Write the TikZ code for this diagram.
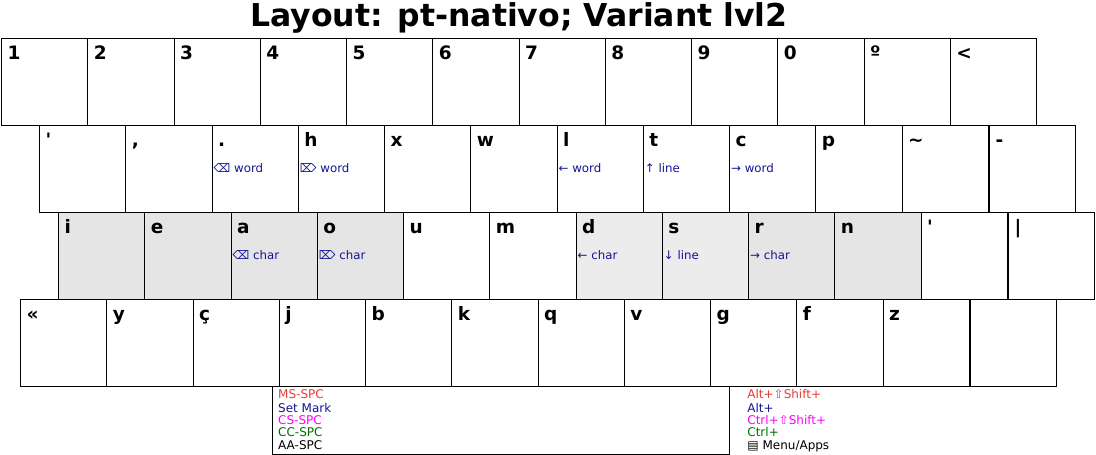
\documentclass[tikz,border=0pt]{standalone}
\usepackage{fontspec}
\setmainfont{DejaVu Sans}
\definecolor{subblue}{RGB}{20,20,150}
\definecolor{modred}{RGB}{228,60,50}
\definecolor{modmagenta}{RGB}{255,0,255}
\definecolor{modgreen}{RGB}{0,110,0}
\definecolor{keygray}{RGB}{229,229,229}
\definecolor{keylight}{RGB}{236,236,236}
\begin{document}
\begin{tikzpicture}[
  x=1pt, y=-1pt,
  key/.style={draw=black, line width=1.2pt, anchor=north west, inner sep=0pt,
              minimum width=86.25pt, minimum height=86.5pt},
  keylbl/.style={anchor=base west, inner sep=0pt, font=\fontsize{18.5}{20}\selectfont\bfseries},
  sublbl/.style={anchor=base west, inner sep=0pt, text=subblue, font=\fontsize{11.8}{13}\selectfont},
  modlbl/.style={anchor=base west, inner sep=0pt, font=\fontsize{12}{14}\selectfont},
  heading/.style={anchor=base, inner sep=0pt, font=\fontsize{31.5}{36}\selectfont\bfseries}
]
\useasboundingbox (0,0) rectangle (1096,455);
\node[heading] (title) at (519,26) {Layout: pt-nativo; Variant lvl2};

% number row
\foreach \lbl [count=\i from 0] in {1,2,3,4,5,6,7,8,9,0,º,<} {
  \node[key] (ka\i) at (1+\i*86.25,38) {};
  \node[keylbl] (la\i) at ([shift={(6.5,21)}]ka\i.north west) {\lbl};
}

% top row
\foreach \lbl/\sub [count=\i from 0] in {\textquotesingle/{},{,}/{},./⌫ word,h/⌦ word,x/{},w/{},
    l/← word,t/↑ line,c/→ word,p/{},\textasciitilde/{}} {
  \node[key] (kb\i) at (39+\i*86.25,125) {};
  \node[keylbl] (lb\i) at ([shift={(6.5,21)}]kb\i.north west) {\lbl};
  \node[sublbl] (sb\i) at ([shift={(2,47)}]kb\i.north west) {\sub};
}
\node[key] (kbminus) at (989,125) {};
\node[keylbl] (lbminus) at ([shift={(6.5,21)}]kbminus.north west) {-};

% home row
\foreach \lbl/\sub/\shade [count=\i from 0] in {i/{}/keygray,e/{}/keygray,a/⌫ char/keygray,
    o/⌦ char/keygray,u/{}/white,m/{}/white,d/← char/keylight,s/↓ line/keylight,
    r/→ char/keygray,n/{}/keygray,\textquotesingle/{}/white} {
  \node[key, fill=\shade] (kc\i) at (58+\i*86.25,212) {};
  \node[keylbl] (lc\i) at ([shift={(6.5,21)}]kc\i.north west) {\lbl};
  \node[sublbl] (sc\i) at ([shift={(2,47)}]kc\i.north west) {\sub};
}
\node[key] (kcbar) at (1008,212) {};
\node[keylbl] (lcbar) at ([shift={(6.5,21)}]kcbar.north west) {|};

% bottom row
\foreach \lbl [count=\i from 0] in {«,y,ç,j,b,k,q,v,g,f,z} {
  \node[key] (kd\i) at (20+\i*86.25,299) {};
  \node[keylbl] (ld\i) at ([shift={(6.5,21)}]kd\i.north west) {\lbl};
}
\node[key] (kdblank) at (970,299) {};

\node[draw=black, line width=1.2pt, anchor=north west, inner sep=0pt,
      minimum width=457pt, minimum height=68pt] (spacebar) at (272,386) {};
\node[modlbl, text=modred] (msspc) at ([shift={(6,12)}]spacebar.north west) {MS-SPC};
\node[modlbl, text=subblue] (setmark) at ([shift={(6,26)}]spacebar.north west) {Set Mark};
\node[modlbl, text=modmagenta] (csspc) at ([shift={(6,38)}]spacebar.north west) {CS-SPC};
\node[modlbl, text=modgreen] (ccspc) at ([shift={(6,50)}]spacebar.north west) {CC-SPC};
\node[modlbl] (aaspc) at ([shift={(6,63)}]spacebar.north west) {AA-SPC};
\node[modlbl, text=modred] (altshift) at ([shift={(17,12)}]spacebar.north east) {Alt+⇧Shift+};
\node[modlbl, text=subblue] (alt) at ([shift={(17,26)}]spacebar.north east) {Alt+};
\node[modlbl, text=modmagenta] (ctrlshift) at ([shift={(17,38)}]spacebar.north east) {Ctrl+⇧Shift+};
\node[modlbl, text=modgreen] (ctrl) at ([shift={(17,50)}]spacebar.north east) {Ctrl+};
\node[modlbl] (menuapps) at ([shift={(17,63)}]spacebar.north east) {▤ Menu/Apps};
\end{tikzpicture}
\end{document}
